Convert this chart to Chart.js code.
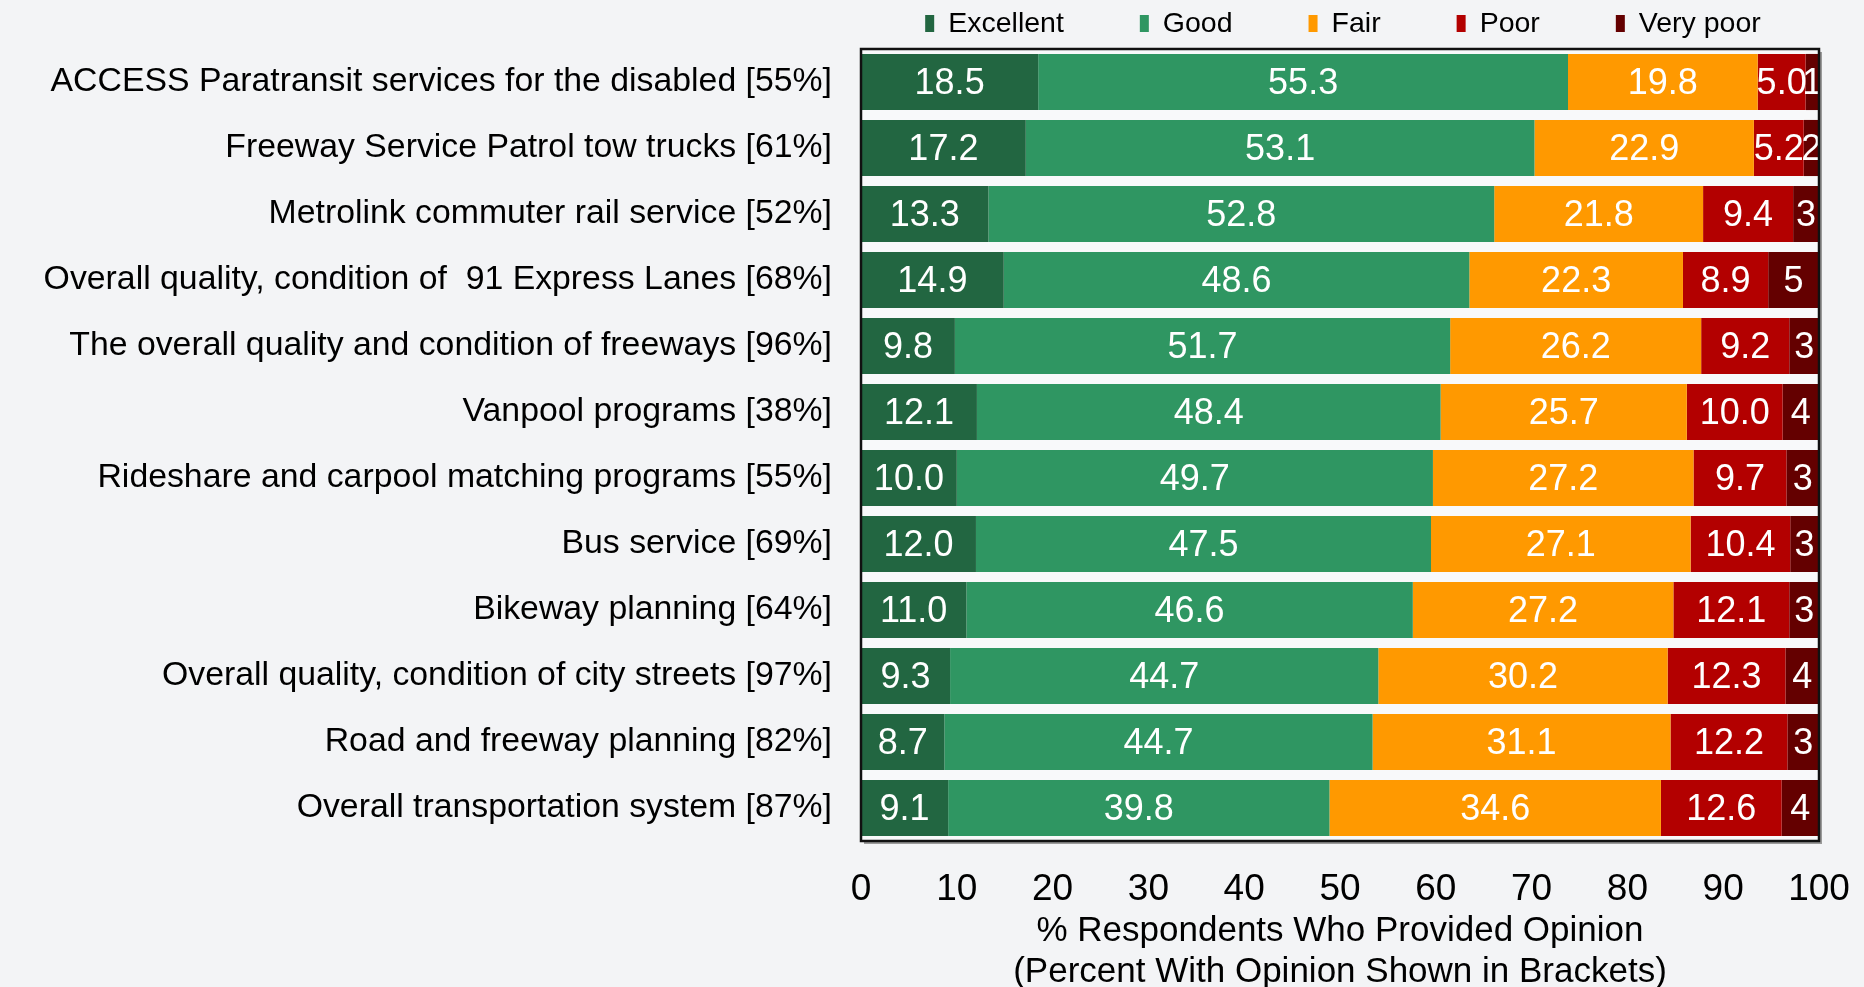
<!DOCTYPE html>
<html>
<head>
<meta charset="utf-8">
<script src="https://cdn.jsdelivr.net/npm/chart.js@4.4.0/dist/chart.umd.min.js"></script>
<style>
  html, body { margin: 0; padding: 0; background: #f3f4f6; }
  #wrap { width: 1864px; height: 987px; }
</style>
</head>
<body>
<div id="wrap"><canvas id="chart" width="1864" height="987"></canvas></div>
<script>
const categories = [
  'ACCESS Paratransit services for the disabled [55%]',
  'Freeway Service Patrol tow trucks [61%]',
  'Metrolink commuter rail service [52%]',
  'Overall quality, condition of  91 Express Lanes [68%]',
  'The overall quality and condition of freeways [96%]',
  'Vanpool programs [38%]',
  'Rideshare and carpool matching programs [55%]',
  'Bus service [69%]',
  'Bikeway planning [64%]',
  'Overall quality, condition of city streets [97%]',
  'Road and freeway planning [82%]',
  'Overall transportation system [87%]'
];
const excellent = [18.5, 17.2, 13.3, 14.9, 9.8, 12.1, 10.0, 12.0, 11.0, 9.3, 8.7, 9.1];
const good      = [55.3, 53.1, 52.8, 48.6, 51.7, 48.4, 49.7, 47.5, 46.6, 44.7, 44.7, 39.8];
const fair      = [19.8, 22.9, 21.8, 22.3, 26.2, 25.7, 27.2, 27.1, 27.2, 30.2, 31.1, 34.6];
const poor      = [5.0, 5.2, 9.4, 8.9, 9.2, 10.0, 9.7, 10.4, 12.1, 12.3, 12.2, 12.6];
const veryPoor  = [1.4, 1.6, 2.7, 5.3, 3.1, 3.8, 3.4, 3.0, 3.1, 3.5, 3.3, 3.9];
const xTicks = [0, 10, 20, 30, 40, 50, 60, 70, 80, 90, 100];
const axisTitle = ['% Respondents Who Provided Opinion', '(Percent With Opinion Shown in Brackets)'];

const FONT = "'Liberation Sans', Arial, sans-serif";

// page background + plot background
const backdrop = {
  id: 'backdrop',
  beforeDraw(chart) {
    const { ctx, chartArea: a } = chart;
    ctx.save();
    ctx.fillStyle = '#f3f4f6';
    ctx.fillRect(0, 0, chart.width, chart.height);
    ctx.fillStyle = '#f8f9fa';
    ctx.fillRect(a.left, a.top, a.right - a.left, a.bottom - a.top);
    ctx.restore();
  }
};

// frame around plot and values inside the segments
const frameAndLabels = {
  id: 'frameAndLabels',
  afterDatasetsDraw(chart) {
    const { ctx, chartArea: a } = chart;
    ctx.save();
    ctx.font = '36px ' + FONT;
    ctx.fillStyle = '#ffffff';
    ctx.textAlign = 'center';
    ctx.textBaseline = 'middle';
    chart.data.datasets.forEach((ds, i) => {
      chart.getDatasetMeta(i).data.forEach((bar, j) => {
        const v = ds.data[j];
        const txt = i === 4 ? v.toFixed(0) : v.toFixed(1);
        ctx.fillText(txt, (bar.x + bar.base) / 2, bar.y + 2);
      });
    });
    // shadow then frame
    ctx.strokeStyle = '#9a9a9a';
    ctx.lineWidth = 2;
    ctx.beginPath();
    ctx.moveTo(a.left + 3, a.bottom + 2);
    ctx.lineTo(a.right + 2, a.bottom + 2);
    ctx.lineTo(a.right + 2, a.top + 3);
    ctx.stroke();
    ctx.strokeStyle = '#111111';
    ctx.lineWidth = 2.5;
    ctx.strokeRect(a.left, a.top, a.right - a.left, a.bottom - a.top);
    ctx.restore();
  }
};

// legend centred over plot area
const topLegend = {
  id: 'topLegend',
  afterDraw(chart) {
    const { ctx, chartArea: a } = chart;
    ctx.save();
    ctx.font = '28.5px ' + FONT;
    ctx.textBaseline = 'middle';
    const gap = 76, box = 9, textOff = 23;
    const items = chart.data.datasets.map(ds => ({
      label: ds.label, color: ds.backgroundColor, w: textOff + ctx.measureText(ds.label).width
    }));
    const total = items.reduce((s, it) => s + it.w, 0) + gap * (items.length - 1);
    let x = (a.left + a.right) / 2 - total / 2 + 3;
    const y = 23;
    items.forEach(it => {
      ctx.fillStyle = it.color;
      ctx.fillRect(x, y - 8, box, 17);
      ctx.fillStyle = '#000';
      ctx.fillText(it.label, x + textOff, y + 1);
      x += it.w + gap;
    });
    ctx.restore();
  }
};

new Chart(document.getElementById('chart'), {
  type: 'bar',
  data: {
    labels: categories,
    datasets: [
      { label: 'Excellent', data: excellent, backgroundColor: '#226641' },
      { label: 'Good', data: good, backgroundColor: '#2f9662' },
      { label: 'Fair', data: fair, backgroundColor: '#ff9900' },
      { label: 'Poor', data: poor, backgroundColor: '#b30000' },
      { label: 'Very poor', data: veryPoor, backgroundColor: '#640000' }
    ]
  },
  options: {
    indexAxis: 'y',
    responsive: false,
    devicePixelRatio: 1,
    animation: false,
    layout: { padding: { top: 49, right: 45, left: 0, bottom: 0 } },
    datasets: { bar: { barPercentage: 0.85, categoryPercentage: 1, borderWidth: 0 } },
    plugins: {
      legend: { display: false },
      tooltip: { enabled: false }
    },
    scales: {
      x: {
        stacked: true,
        min: 0,
        max: 100,
        afterBuildTicks(scale) { scale.ticks = xTicks.map(v => ({ value: v })); },
        afterFit(scale) {
          scale.height = 146;
          scale.paddingLeft = 0;
          scale.paddingRight = 0;
        },
        grid: { display: false, drawTicks: false },
        border: { display: false },
        ticks: { color: '#000', padding: 27, maxRotation: 0, font: { family: FONT, size: 37 } },
        title: {
          display: true,
          text: axisTitle,
          color: '#000',
          padding: { top: 0, bottom: -5 },
          font: { family: FONT, size: 35, lineHeight: 1.15 }
        }
      },
      y: {
        stacked: true,
        afterFit(scale) {
          scale.width = 861;
          scale.paddingTop = 0;
          scale.paddingBottom = 0;
        },
        grid: { display: false, drawTicks: false },
        border: { display: false },
        ticks: { color: '#000', padding: 29, autoSkip: false, font: { family: FONT, size: 33.8 } }
      }
    }
  },
  plugins: [backdrop, frameAndLabels, topLegend]
});
</script>
</body>
</html>
